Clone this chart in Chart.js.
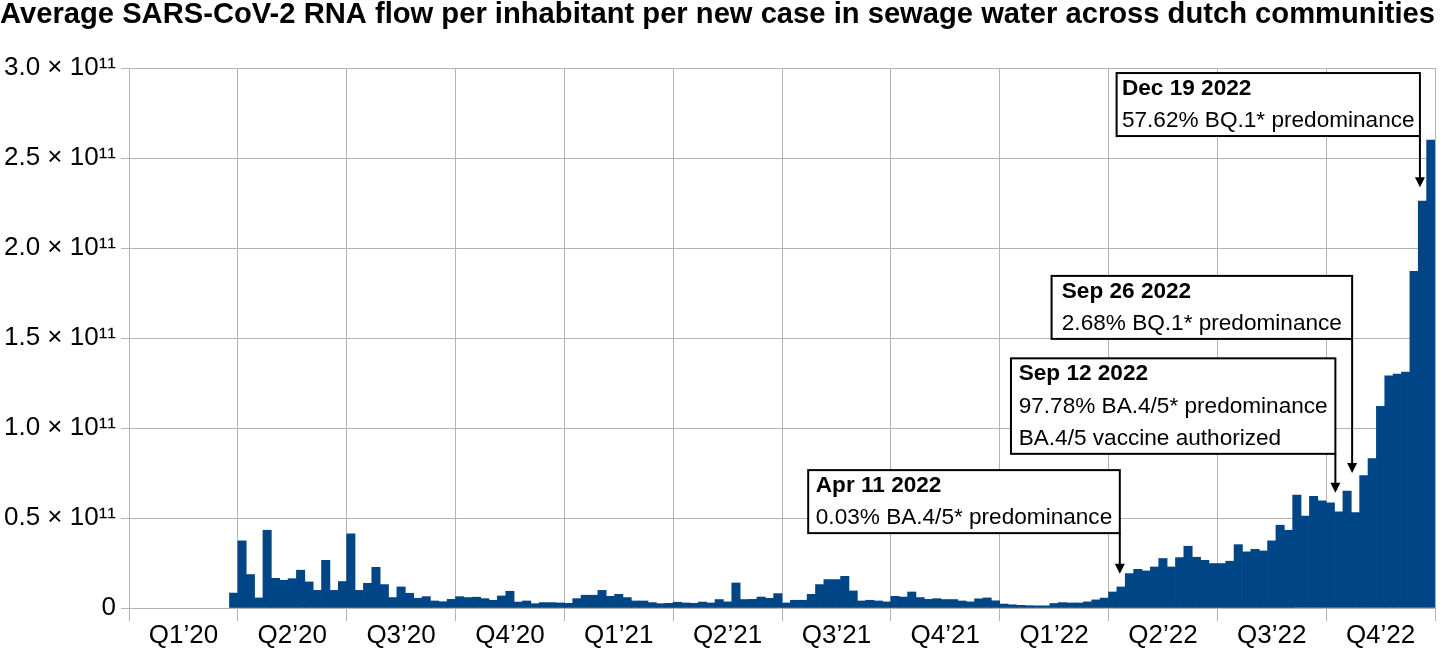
<!DOCTYPE html>
<html>
<head>
<meta charset="utf-8">
<script src="https://cdn.jsdelivr.net/npm/chart.js@4.4.0/dist/chart.umd.min.js"></script>
<style>
  html, body { margin: 0; padding: 0; background: #fff; }
</style>
</head>
<body>
<canvas id="myChart" width="1443" height="648"></canvas>
<script>
// week index (0 = first week of 2020) of the first bar
const FIRST_WEEK = 12
const WEEKS_TOTAL = 156

// average RNA flow per inhabitant per new case, in units of 10^11, one bar per week
const weeklyRna = [
  0.083, 0.373, 0.186, 0.056, 0.432, 0.165, 0.154, 0.163, 0.210, 0.145,
  0.098, 0.265, 0.098, 0.147, 0.412, 0.098, 0.137, 0.226, 0.130, 0.058,
  0.117, 0.082, 0.054, 0.063, 0.039, 0.035, 0.048, 0.063, 0.058, 0.060,
  0.052, 0.043, 0.067, 0.093, 0.033, 0.039, 0.024, 0.030, 0.030, 0.028,
  0.026, 0.052, 0.071, 0.071, 0.098, 0.065, 0.076, 0.058, 0.039, 0.039,
  0.030, 0.024, 0.026, 0.032, 0.028, 0.026, 0.033, 0.028, 0.047, 0.034,
  0.139, 0.047, 0.048, 0.061, 0.054, 0.080, 0.028, 0.043, 0.043, 0.076,
  0.130, 0.158, 0.158, 0.176, 0.095, 0.039, 0.043, 0.039, 0.034, 0.065,
  0.061, 0.089, 0.058, 0.048, 0.052, 0.047, 0.047, 0.039, 0.034, 0.051,
  0.056, 0.040, 0.022, 0.018, 0.015, 0.013, 0.012, 0.012, 0.025, 0.030,
  0.028, 0.028, 0.034, 0.045, 0.055, 0.089, 0.117, 0.191, 0.215, 0.206,
  0.228, 0.275, 0.228, 0.280, 0.343, 0.282, 0.265, 0.247, 0.247, 0.260,
  0.352, 0.312, 0.326, 0.317, 0.373, 0.460, 0.432, 0.627, 0.510, 0.621,
  0.595, 0.584, 0.534, 0.650, 0.530, 0.735, 0.830, 1.120, 1.290, 1.300,
  1.310, 1.870, 2.260, 2.600
]

const quarterLabels = ['Q1’20', 'Q2’20', 'Q3’20', 'Q4’20', 'Q1’21', 'Q2’21',
  'Q3’21', 'Q4’21', 'Q1’22', 'Q2’22', 'Q3’22', 'Q4’22']

const noteDates = ['Apr 11 2022', 'Sep 12 2022', 'Sep 26 2022', 'Dec 19 2022']
const noteTexts = [
  ['0.03% BA.4/5* predominance'],
  ['97.78% BA.4/5* predominance', 'BA.4/5 vaccine authorized'],
  ['2.68% BQ.1* predominance'],
  ['57.62% BQ.1* predominance']
]

// where each callout sits: box left and arrow x (weeks), arrow tip and box top (x 10^11)
const notePlacement = [
  { left: 81.13, week: 118.35, tip: 0.19, top: 0.766 },
  { left: 105.35, week: 144.1, tip: 0.64, top: 1.387 },
  { left: 110.2, week: 146.1, tip: 0.75, top: 1.845 },
  { left: 117.97, week: 154.2, tip: 2.337, top: 2.972 }
]

const FONT = "'Liberation Sans', Arial, sans-serif"
const GRID = '#b3b3b3'

const noteBoxes = {
  id: 'noteBoxes',
  afterDraw(chart) {
    const { ctx, scales: { x, y } } = chart
    const fs = 22.6, lh = 32.5
    ctx.save()
    notePlacement.forEach((p, i) => {
      const lines = [noteDates[i], ...noteTexts[i]]
      const left = x.getPixelForValue(p.left)
      const right = x.getPixelForValue(p.week)
      const top = y.getPixelForValue(p.top * 1e11)
      const tip = y.getPixelForValue(p.tip * 1e11)
      let w = 0
      lines.forEach((t, j) => {
        ctx.font = (j === 0 ? 'bold ' : '') + fs + 'px ' + FONT
        w = Math.max(w, ctx.measureText(t).width)
      })
      const textX = left + (right - left - w) / 2
      const h = lines.length * lh - 2
      ctx.fillStyle = '#fff'
      ctx.fillRect(left, top, right - left, h)
      ctx.strokeStyle = '#000'
      ctx.lineWidth = 2
      ctx.strokeRect(left, top, right - left, h)
      ctx.fillStyle = '#000'
      ctx.textBaseline = 'middle'
      ctx.textAlign = 'left'
      lines.forEach((t, j) => {
        ctx.font = (j === 0 ? 'bold ' : '') + fs + 'px ' + FONT
        ctx.fillText(t, textX, top + 15.5 + lh * j)
      })
      // arrow
      ctx.beginPath()
      ctx.moveTo(right, top + h)
      ctx.lineTo(right, tip - 8)
      ctx.stroke()
      ctx.beginPath()
      ctx.moveTo(right - 5, tip - 10)
      ctx.lineTo(right + 5, tip - 10)
      ctx.lineTo(right, tip)
      ctx.closePath()
      ctx.fill()
    })
    ctx.restore()
  }
}

const data = {
  datasets: [{
    data: weeklyRna.map((v, i) => ({ x: FIRST_WEEK + i + 0.5, y: v * 1e11 })),
    backgroundColor: '#004586',
    borderWidth: 0,
    categoryPercentage: 1,
    barPercentage: 1
  }]
}

const config = {
  type: 'bar',
  data: data,
  options: {
    responsive: false,
    animation: false,
    layout: { padding: { left: 0, right: 8, top: 0, bottom: 0 } },
    plugins: {
      legend: { display: false },
      tooltip: { enabled: false },
      title: {
        display: true,
        text: 'Average SARS-CoV-2 RNA flow per inhabitant per new case in sewage water across dutch communities',
        color: '#000',
        font: { family: FONT, size: 29.2, weight: 'bold', lineHeight: 1 },
        padding: { top: 0.8, bottom: 38 }
      }
    },
    scales: {
      x: {
        type: 'linear',
        min: 0,
        max: WEEKS_TOTAL,
        offset: false,
        grid: { color: GRID, offset: false, tickLength: 13 },
        border: { color: GRID },
        ticks: {
          stepSize: 13,
          autoSkip: false,
          maxRotation: 0,
          labelOffset: 54.4,
          padding: -1,
          color: '#000',
          font: { family: FONT, size: 26 },
          callback: (v) => quarterLabels[v / 13] || ''
        },
        afterFit: (s) => { s.height = 40 }
      },
      y: {
        min: 0,
        max: 3e11,
        grid: { color: GRID, tickLength: 8 },
        border: { color: GRID },
        ticks: {
          stepSize: 0.5e11,
          padding: 5,
          color: '#000',
          font: { family: FONT, size: 26 },
          callback: (v) => v === 0 ? '0' : (v / 1e11).toFixed(1) + ' × 10¹¹'
        },
        afterFit: (s) => { s.width = 129 }
      }
    }
  },
  plugins: [noteBoxes]
}

const ctx = document.getElementById('myChart').getContext('2d')
const chart = new Chart(ctx, config)
</script>
</body>
</html>
